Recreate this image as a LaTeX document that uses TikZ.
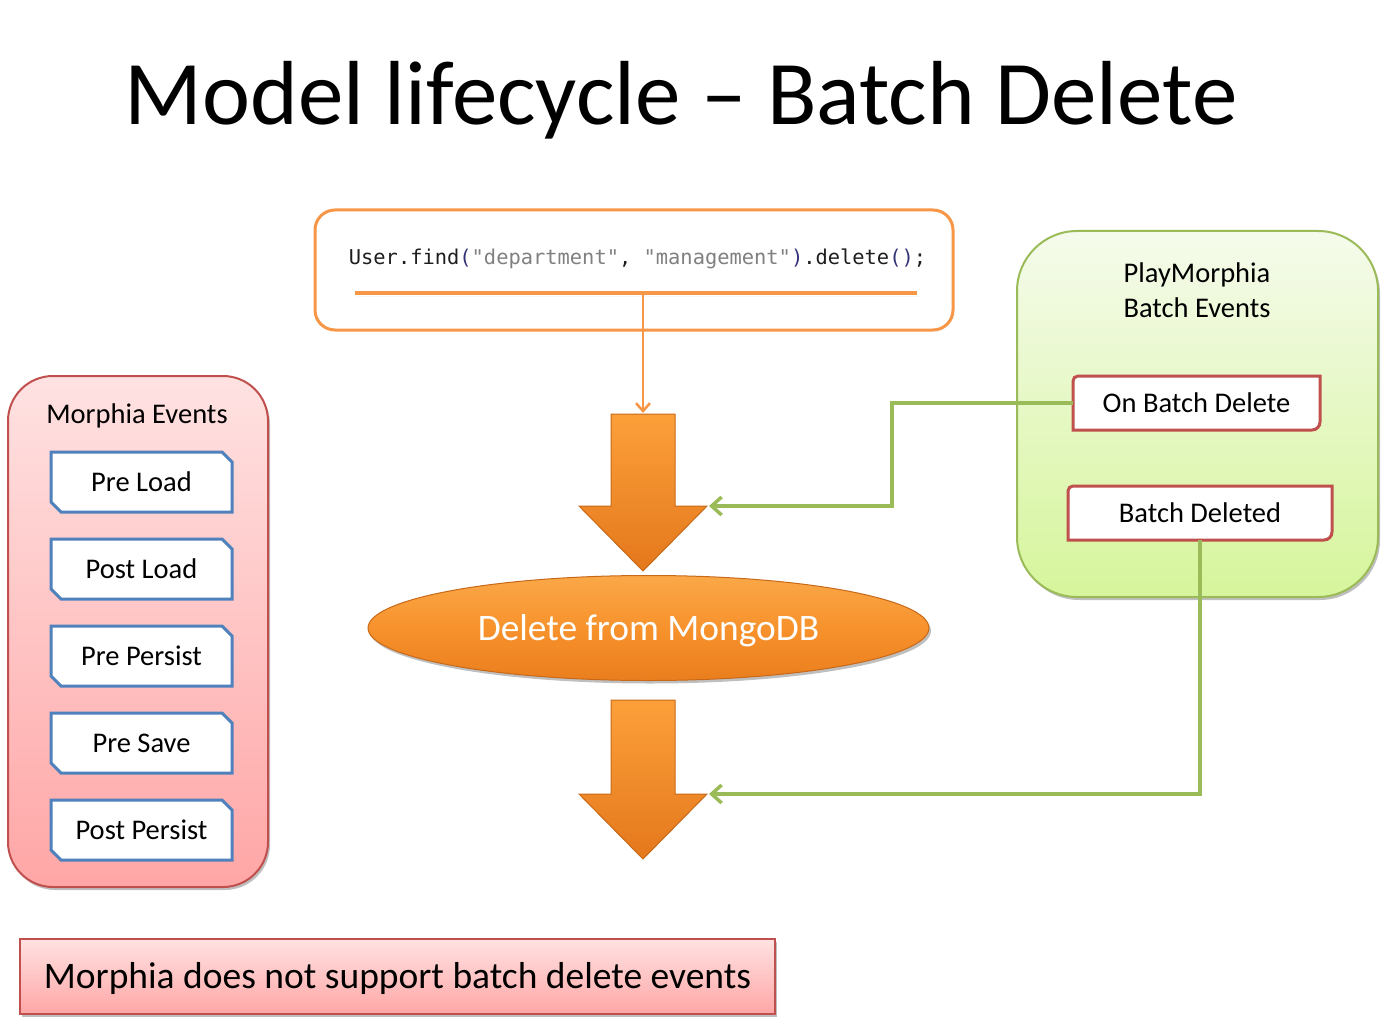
\documentclass[tikz,border=0pt]{standalone}
\usepackage{fontspec}
\setmainfont{Carlito}
\setmonofont{DejaVu Sans Mono}
\usetikzlibrary{arrows.meta,shapes.geometric,shadows}
\definecolor{ppOrange}{HTML}{F79646}
\definecolor{ppGreen}{HTML}{9BBB59}
\definecolor{ppRed}{HTML}{C0504D}
\definecolor{ppBlue}{HTML}{4F81BD}
\definecolor{pinkTop}{RGB}{255,226,226}
\definecolor{pinkBot}{RGB}{255,166,166}
\definecolor{greenTop}{RGB}{245,251,236}
\definecolor{greenBot}{RGB}{214,245,155}
\definecolor{arrTop}{RGB}{252,160,58}
\definecolor{arrBot}{RGB}{228,120,28}
\definecolor{arrEdge}{RGB}{200,105,25}
\definecolor{ellTop}{RGB}{250,168,72}
\definecolor{ellMid}{RGB}{247,146,44}
\definecolor{ellBot}{RGB}{234,126,30}
\definecolor{codeBlack}{RGB}{30,30,30}
\definecolor{codeGray}{RGB}{128,128,128}
\definecolor{codeBlue}{RGB}{50,50,120}
\tikzset{
  softshadow/.style={drop shadow={shadow xshift=2pt,shadow yshift=-3pt,opacity=0.25,fill=black}},
  evtext/.style={inner sep=0pt,font=\fontsize{28.5}{32}\selectfont},
  bluebox/.style={draw=ppBlue,line width=3pt,fill=white,line join=miter},
  redbox/.style={draw=ppRed,line width=3pt,fill=white},
  bigarrow/.style={top color=arrTop,bottom color=arrBot,draw=arrEdge,line width=1pt,line join=miter},
  greenline/.style={draw=ppGreen,line width=3.5pt,-{Straight Barb[length=10pt,width=18pt]}},
  orangeline/.style={draw=ppOrange,line width=2.5pt,-{Straight Barb[length=8pt,width=14pt]}}
}
\begin{document}
\begin{tikzpicture}[x=1pt,y=-1pt]
\useasboundingbox (0,0) rectangle (1386,1032);

% title
\node[anchor=base,inner sep=0pt,font=\fontsize{91}{100}\selectfont] (title) at (681,125) {Model lifecycle – Batch Delete};

% code box
\node[draw=ppOrange,line width=3pt,rounded corners=20pt,fill=white,minimum width=638pt,minimum height=120pt] (code) at (634,270) {};
\node[anchor=base,inner sep=0pt,font=\fontsize{20.4}{24}\ttfamily] (codetext) at (637.5,265)
  {\color{codeBlack}User.find{\color{codeBlue}(}{\color{codeGray}"department"}, {\color{codeGray}"management"}{\color{codeBlue})}.delete{\color{codeBlue}()};};
\draw[ppOrange,line width=4pt,softshadow] (355,293) -- (917,293);
\coordinate (ulm) at (643,294);

% big arrows
\draw[bigarrow] (611,414) -- (675,414) -- (675,506) -- (707,506) -- (643,571) -- (579,506) -- (611,506) -- cycle;
\coordinate (a1top) at (643,413);
\coordinate (a1wing) at (709,506);
\draw[bigarrow] (611,700) -- (675,700) -- (675,794) -- (707,794) -- (643,859) -- (579,794) -- (611,794) -- cycle;
\coordinate (a2wing) at (709,794);

% ellipse
\node[ellipse,minimum width=561pt,minimum height=105pt,top color=ellTop,bottom color=ellBot,middle color=ellMid,draw=arrEdge,line width=1pt,softshadow,
      text=white,font=\fontsize{37.4}{40}\selectfont,text height=24pt,text depth=0pt] (db) at (648.5,628) {Delete from MongoDB};

% left panel
\node[draw=ppRed,line width=2pt,rounded corners=45pt,top color=pinkTop,bottom color=pinkBot,minimum width=260pt,minimum height=511pt,softshadow] (morphia) at (138,631.5) {};
\node[evtext,anchor=base] (mtitle) at (137,423) {Morphia Events};
\foreach \t/\n [count=\i from 0] in {Pre Load/pl,Post Load/pol,Pre Persist/pp,Pre Save/ps,Post Persist/pop} {
  \pgfmathsetmacro\yy{452+87*\i}
  \draw[bluebox] (51,\yy) -- (222,\yy) -- (232,\yy+10) -- (232,\yy+60) -- (61,\yy+60) -- (51,\yy+50) -- cycle;
  \node[evtext] (\n) at (141.5,\yy+30) {\t};
}

% right panel
\node[draw=ppGreen,line width=2pt,rounded corners=60pt,top color=greenTop,bottom color=greenBot,minimum width=361pt,minimum height=366pt,softshadow] (pm) at (1197.5,414) {};
\node[evtext,anchor=base] (pmt1) at (1197,283) {PlayMorphia};
\node[evtext,anchor=base] (pmt2) at (1197,317) {Batch Events};

\draw[redbox] (1073,381) arc[start angle=180,end angle=270,radius=5] -- (1320,376) -- (1320,422) arc[start angle=0,end angle=90,radius=8] -- (1073,430) -- cycle;
\node[evtext,minimum width=247pt,minimum height=54pt] (onb) at (1196.5,403) {On Batch Delete};
\draw[redbox] (1068,491) arc[start angle=180,end angle=270,radius=5] -- (1332,486) -- (1332,532) arc[start angle=0,end angle=90,radius=8] -- (1068,540) -- cycle;
\node[evtext,minimum width=264pt,minimum height=54pt] (bd) at (1200,513) {Batch Deleted};

% connectors
\draw[orangeline] (ulm) -- (a1top);
\draw[greenline] (onb.west) -- (892,403) |- (a1wing);
\draw[greenline] (bd.south) |- (a2wing);

% bottom note
\node[draw=ppRed,line width=1.5pt,top color=pinkTop,bottom color=pinkBot,minimum width=755pt,minimum height=75pt,softshadow,
      font=\fontsize{37.5}{40}\selectfont,text height=24pt,text depth=0pt] (note) at (397.5,976.5) {Morphia does not support batch delete events};
\end{tikzpicture}
\end{document}
